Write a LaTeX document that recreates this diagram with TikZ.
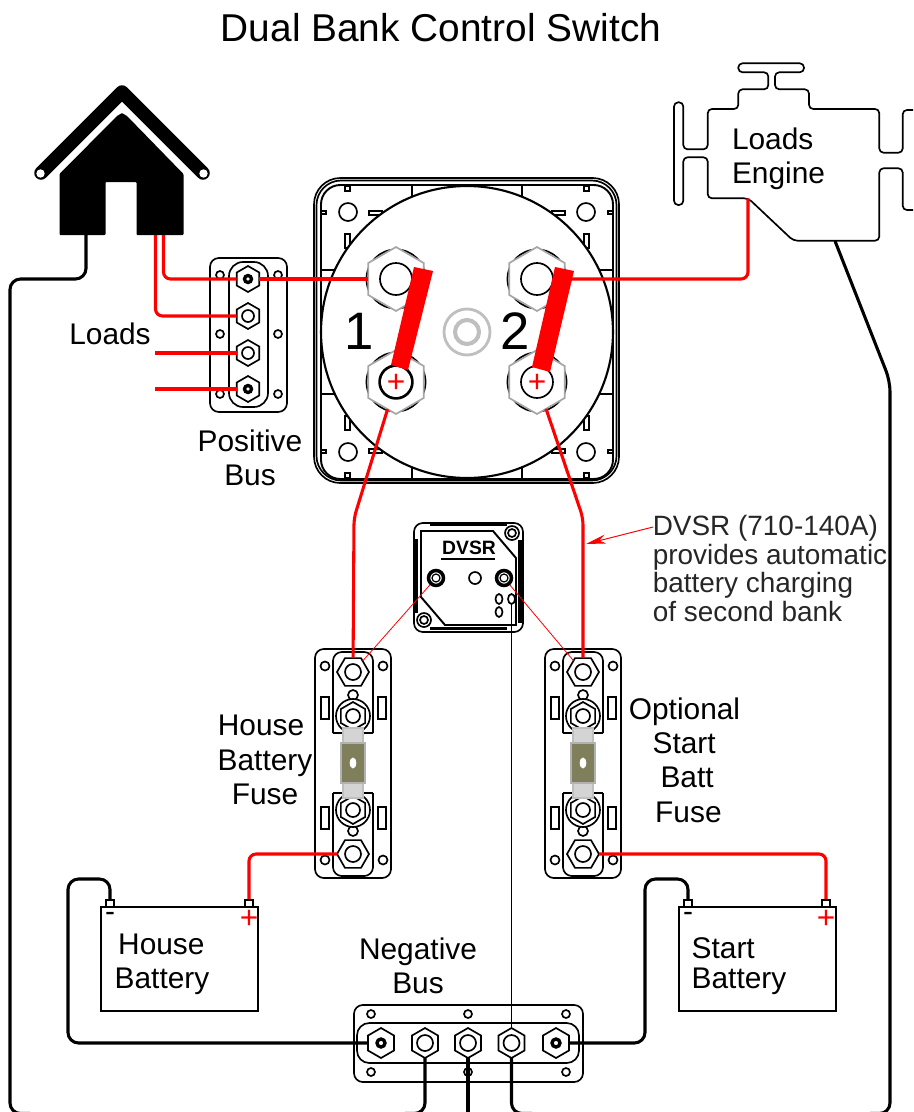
\documentclass[tikz,border=0pt]{standalone}
\usepackage{fontspec}
\setmainfont{Liberation Sans}
\usetikzlibrary{shapes.geometric,arrows.meta}
\definecolor{fuseolive}{HTML}{7F7F5C}
\definecolor{wirered}{HTML}{FF0000}
\tikzset{
	hexup/.style={regular polygon, regular polygon sides=6, shape border rotate=30, draw, fill=white, inner sep=0pt, outer sep=0pt, minimum size=#1},
	hexflat/.style={regular polygon, regular polygon sides=6, draw, fill=white, inner sep=0pt, outer sep=0pt, minimum size=#1},
	ringlight/.style={path picture={\draw (path picture bounding box.center) circle (#1);}},
	ringdark/.style={path picture={\draw[line width=1.9pt] (path picture bounding box.center) circle (#1);}},
	hole/.style={circle, draw, fill=white, inner sep=0pt, minimum size=#1},
	oval/.style={ellipse, draw, fill=white, inner sep=0pt, minimum width=0.14cm, minimum height=0.2cm},
	terminal/.style={rectangle, draw, fill=white, inner sep=0pt, minimum width=0.16cm, minimum height=0.14cm},
	battbox/.style={rectangle, draw, fill=white, inner sep=0pt, minimum width=3.14cm, minimum height=2.08cm},
	redwire/.style={draw=wirered, line width=1.75pt, rounded corners=4pt},
	redthin/.style={draw=wirered, line width=0.45pt},
	blackwire/.style={draw=black, line width=1.75pt, rounded corners=6pt},
	lbl/.style={font=\fontsize{17}{19.5}\selectfont, inner sep=0pt, align=center},
	note/.style={font=\fontsize{15.9}{16.2}\selectfont, inner sep=0pt, align=left, text=black!85},
	bignum/.style={font=\fontsize{30}{30}\selectfont, inner sep=0pt},
	fuseblock/.pic={
		\draw[rounded corners=5pt] (-38,-114) rectangle (38,115);
		\draw[rounded corners=5pt] (-20,-30) -- (-20,-111) -- (20,-111) -- (20,-30);
		\draw (-20,-30) -- (20,-30);
		\draw[rounded corners=5pt] (-20,30) -- (-20,113) -- (20,113) -- (20,30);
		\draw (-20,30) -- (20,30);
		\foreach \sy in {-1,1} {
			\draw (-28,\sy*97) circle (4.5) (30,\sy*97) circle (4.5);
			\draw[line width=1.1pt] (-32,\sy*55-11) rectangle (-24,\sy*55+11);
			\draw[line width=1.1pt] (25,\sy*55-11) rectangle (33,\sy*55+11);
			\draw[fill=white] (0,\sy*68) circle (5);
			\draw[fill=white] (0,\sy*47) circle (17);
		}
		\node[hexup=0.56cm, ringlight=0.14cm] at (0,-47) {};
		\node[hexup=0.56cm, ringlight=0.14cm] at (0,47) {};
		\draw[fill=black!17, draw=black!25] (-10,-35) rectangle (10,35);
		\draw[fill=fuseolive, draw=black!30] (-12,-20) rectangle (12,20);
		\draw[fill=white, draw=white] (0,0) ellipse (2.5 and 4.5);
		\node[hexflat=0.64cm, ringlight=0.16cm] (top) at (0,-91) {};
		\node[hexflat=0.64cm, ringlight=0.16cm] (bot) at (0,91) {};
	}
}
\begin{document}
\begin{tikzpicture}[x=0.02cm, y=-0.02cm, line width=0.95pt]
	\useasboundingbox (0,0) rectangle (913,1112);
	\node[font=\fontsize{22.1}{24}\selectfont, inner sep=0pt] (title) at (441,28) {Dual Bank Control Switch};
	% house
	\draw[line width=0.27cm, line cap=round, line join=round] (41,173) -- (122,92) -- (203,173);
	\fill[white] (40.5,173.5) circle (4.2) (203.5,173.5) circle (4.2);
	\fill[rounded corners=0.5pt] (59.5,174) -- (117,116) -- (122,113) -- (127,116) -- (183.5,174) -- (183.5,235) -- (136.5,235) -- (136.5,182) -- (105.5,182) -- (105.5,235) -- (59.5,235) -- cycle;
	\coordinate (houseGnd) at (86,235);
	\coordinate (housePosA) at (155.5,235);
	\coordinate (housePosB) at (163.5,235);
	% engine
	\draw[rounded corners=2.4pt, line width=0.95pt] (913,110) -- (902.7,110) -- (902.7,152.7) -- (879.3,152.7) -- (879.3,109) -- (809,109) -- (809,89.3) -- (775,89.3) -- (775,72.3) -- (804,72.3) -- (804,63.3) -- (738.3,63.3) -- (738.3,72.3) -- (768.3,72.3) -- (768.3,89.3) -- (738.3,89.3) -- (738.3,109) -- (707.7,109) -- (707.7,149.3) -- (683.3,149.3) -- (683.3,102.3) -- (674,102.3) -- (674,205) -- (683.3,205) -- (683.3,157.3) -- (707.7,157.3) -- (707.7,198.3) -- (748.3,198.3) -- (793.3,240.7) -- (879.3,240.7) -- (879.3,168.3) -- (902.7,168.3) -- (902.7,210) -- (913,210);
	\coordinate (engineIn) at (748,198.3);
	\coordinate (engineGnd) at (835,241);
	\node[lbl, align=left] (engineText) at (778.5,159) {Loads\\Engine};
	% switch body
	\draw[rounded corners=15pt] (314,178) rectangle (619,483);
	\draw[rounded corners=14pt] (316.5,180.5) rectangle (616.5,480.5);
	\draw[rounded corners=11pt, line width=1.1pt] (321,185) rectangle (613,479);
	\foreach \sx/\sy in {1/1,-1/1,1/-1,-1/-1} {
		\begin{scope}[shift={(467,332)}, xscale=\sx, yscale=\sy]
			\draw (-119,-120) circle (9);
			\draw[fill=white] (-122,-146) rectangle (-117,-141);
			\draw[fill=white] (-146,-121) rectangle (-141,-118);
			\draw[fill=white] (-98,-121) rectangle (-85,-117);
			\draw[fill=white] (-122,-98) rectangle (-117,-84);
			\draw[line width=1.1pt] (-55,-146) -- (-55,-136);
			\draw[line width=1.1pt] (-146,-62) -- (-133,-62);
		\end{scope}
	}
	\node[circle, draw, fill=white, line width=1.2pt, inner sep=0pt, minimum size=5.84cm] (swBody) at (467,332) {};
	\draw[black!25, line width=1.6pt] (467,332) circle (23);
	\draw[black!25, line width=2.3pt] (467,332) circle (12);
	\foreach \nm/\px/\py in {swA/396/279, swB/537/279, swC/396/382, swD/537/382} {
		\draw[line width=1pt] (\px,\py) circle (29.5);
		\node[hexup=1.28cm, draw=black!35] (\nm) at (\px,\py) {};
		\draw[fill=white] (\px,\py) circle (16);
	}
	\draw[line width=1.4pt] (396,382) circle (16.5);
	\fill[wirered] (414,267) -- (433,271) -- (408,370) -- (391,365) -- cycle;
	\fill[wirered] (555,267) -- (574,271) -- (550,372) -- (532,367) -- cycle;
	\node[text=wirered, font=\fontsize{18}{18}\selectfont, inner sep=0pt] (plusC) at (396,383) {+};
	\node[text=wirered, font=\fontsize{18}{18}\selectfont, inner sep=0pt] (plusD) at (537,383) {+};
	\node[bignum] (numA) at (359,331) {1};
	\node[bignum] (numB) at (515,331) {2};
	% positive bus
	\draw[rounded corners=5pt] (210,258) rectangle (287,412);
	\draw[rounded corners=8pt] (229,262) rectangle (268,407);
	\foreach \py in {275,334,394} {
		\node[hole=0.16cm] (posHoleL\py) at (220,\py) {};
		\node[hole=0.16cm] (posHoleR\py) at (278,\py) {};
	}
	\node[hexup=0.52cm, ringdark=0.07cm] (posA) at (248,279) {};
	\node[hexup=0.52cm, ringlight=0.12cm] (posB) at (248,316) {};
	\node[hexup=0.52cm, ringlight=0.12cm] (posC) at (248,353) {};
	\node[hexup=0.52cm, ringdark=0.07cm] (posD) at (248,389) {};
	\coordinate (loadC) at (155,353);
	\coordinate (loadD) at (155,389);
	\node[lbl] (loadsText) at (110,334) {Loads};
	\node[lbl] (posText) at (250,458) {Positive\\Bus};
	% switch wires
	\coordinate (bendA) at (354,518);
	\coordinate (bendB) at (583,518);
	\draw[redwire] (housePosB) |- (posA);
	\draw[redwire] (housePosA) |- (posB);
	\draw[redwire] (loadC) -- (posC);
	\draw[redwire] (loadD) -- (posD);
	\draw[redwire] (posA) -- (swA);
	\draw[redwire] (swB) -| (engineIn);
	% fuses
	\pic (fuseA) at (353,763) {fuseblock};
	\pic (fuseB) at (583,763) {fuseblock};
	\draw[redwire] (swC) -- (bendA) -- (fuseAtop);
	\draw[redwire] (swD) -- (bendB) -- (fuseBtop);
	\node[lbl] (fuseAText) at (265,760) {House\hspace*{4.5pt}\\Battery\\Fuse};
	\node[lbl, align=left] (fuseBText) at (684.5,760) {Optional\\\hspace{13.5pt}Start\\\hspace{18pt}Batt\\\hspace{15pt}Fuse};
	% dvsr
	\draw[rounded corners=5pt, fill=white] (414,523) rectangle (523,632);
	\draw[line width=1.1pt] (421,531) -- (493,531) -- (516,558) -- (516,625) -- (445,625) -- (421,597) -- cycle;
	\draw[line width=1.8pt] (430,524.5) -- (507,524.5) (416,539) -- (416,613) (430,628.5) -- (507,628.5) (520,540) -- (520,623);
	\draw[fill=white] (512,533) circle (7) (512,533) circle (4);
	\draw[fill=white] (424,620) circle (7) (424,620) circle (4);
	\node[hole=0.3cm, line width=2pt, path picture={\draw[line width=0.7pt] (path picture bounding box.center) circle (0.08cm);}] (dvsrL) at (436,578) {};
	\node[hole=0.3cm, line width=2pt, path picture={\draw[line width=0.7pt] (path picture bounding box.center) circle (0.08cm);}] (dvsrR) at (504,578) {};
	\node[hole=0.24cm] (dvsrMid) at (475,578) {};
	\node[oval] (dvsrOvalA) at (499,599) {};
	\node[oval] (dvsrOvalB) at (511.5,599) {};
	\node[oval] (dvsrOvalC) at (499,612) {};
	\node[font=\bfseries\fontsize{11}{11}\selectfont, inner sep=0pt] (dvsrText) at (469,548) {DVSR};
	\draw (441,559) -- (495,559);
	\draw[redthin] (dvsrL) -- (fuseAtop);
	\draw[redthin] (dvsrR) -- (fuseBtop);
	\node[note] (dvsrNote) at (770,568.5) {DVSR (710-140A)\\provides automatic\\battery charging\\of second bank};
	\coordinate (dvsrStart) at (653,527);
	\coordinate (dvsrTip) at (586,544);
	\draw[redthin, line width=0.55pt, -{Stealth[length=0.4cm, width=0.18cm]}] (dvsrStart) -- (dvsrTip);
	% batteries
	\node[battbox] (battA) at (179.5,959) {};
	\node[battbox] (battB) at (757.5,959) {};
	\node[terminal] (termA) at (110,903.5) {};
	\node[terminal] (termB) at (249,903.5) {};
	\node[terminal] (termC) at (688,903.5) {};
	\node[terminal] (termD) at (826,903.5) {};
	\node[font=\fontsize{17}{17}\selectfont, inner sep=0pt] (minusA) at (110,917) {-};
	\node[font=\fontsize{17}{17}\selectfont, inner sep=0pt] (minusB) at (688,917) {-};
	\node[text=wirered, font=\fontsize{18}{18}\selectfont, inner sep=0pt] (plusA) at (249,919.5) {+};
	\node[text=wirered, font=\fontsize{18}{18}\selectfont, inner sep=0pt] (plusB) at (826,919.5) {+};
	\node[lbl, align=left] (battAText) at (162,964.5) {\hspace{2pt}House\\Battery};
	\node[lbl, align=left] (battBText) at (739,966) {Start\\[-2.3pt]Battery};
	\draw[redwire] (fuseAbot) -| (termB);
	\draw[redwire] (fuseBbot) -| (termD);
	% negative bus
	\draw[rounded corners=5pt] (354,1005) rectangle (583,1082);
	\draw[rounded corners=7pt] (357,1023) rectangle (579,1063);
	\foreach \px in {371,468,566} {
		\node[hole=0.16cm] (negHoleT\px) at (\px,1014) {};
		\node[hole=0.16cm] (negHoleB\px) at (\px,1072) {};
	}
	\node[hexup=0.6cm, ringdark=0.08cm] (negA) at (381,1043) {};
	\node[hexup=0.6cm, ringlight=0.16cm] (negB) at (425,1043) {};
	\node[hexup=0.6cm, ringlight=0.16cm] (negC) at (468,1043) {};
	\node[hexup=0.6cm, ringlight=0.16cm] (negD) at (511.5,1043) {};
	\node[hexup=0.6cm, ringdark=0.08cm] (negE) at (556,1043) {};
	\node[lbl] (negText) at (418,966) {Negative\\Bus};
	\coordinate (bendG) at (68,879);
	\coordinate (bendS) at (645,879);
	\coordinate (bendH) at (10,279);
	\coordinate (bendR) at (890,381);
	\coordinate (botL) at (30,1113.5);
	\coordinate (botR) at (870,1113.5);
	\coordinate (botB) at (405,1113.5);
	\coordinate (botC) at (468,1113.5);
	\coordinate (botD) at (532,1113.5);
	\draw[blackwire] (negA) -| (bendG) -| (termA);
	\draw[blackwire] (negE) -| (bendS) -| (termC);
	\draw[blackwire] (houseGnd) |- (bendH) |- (botL);
	\draw[blackwire] (engineGnd) -- (bendR) |- (botR);
	\draw[blackwire] (negB) |- (botB);
	\draw[blackwire] (negC) -- (botC);
	\draw[blackwire] (negD) |- (botD);
	\draw[line width=1.1pt] (dvsrOvalB.south) -- (negD);
\end{tikzpicture}
\end{document}
